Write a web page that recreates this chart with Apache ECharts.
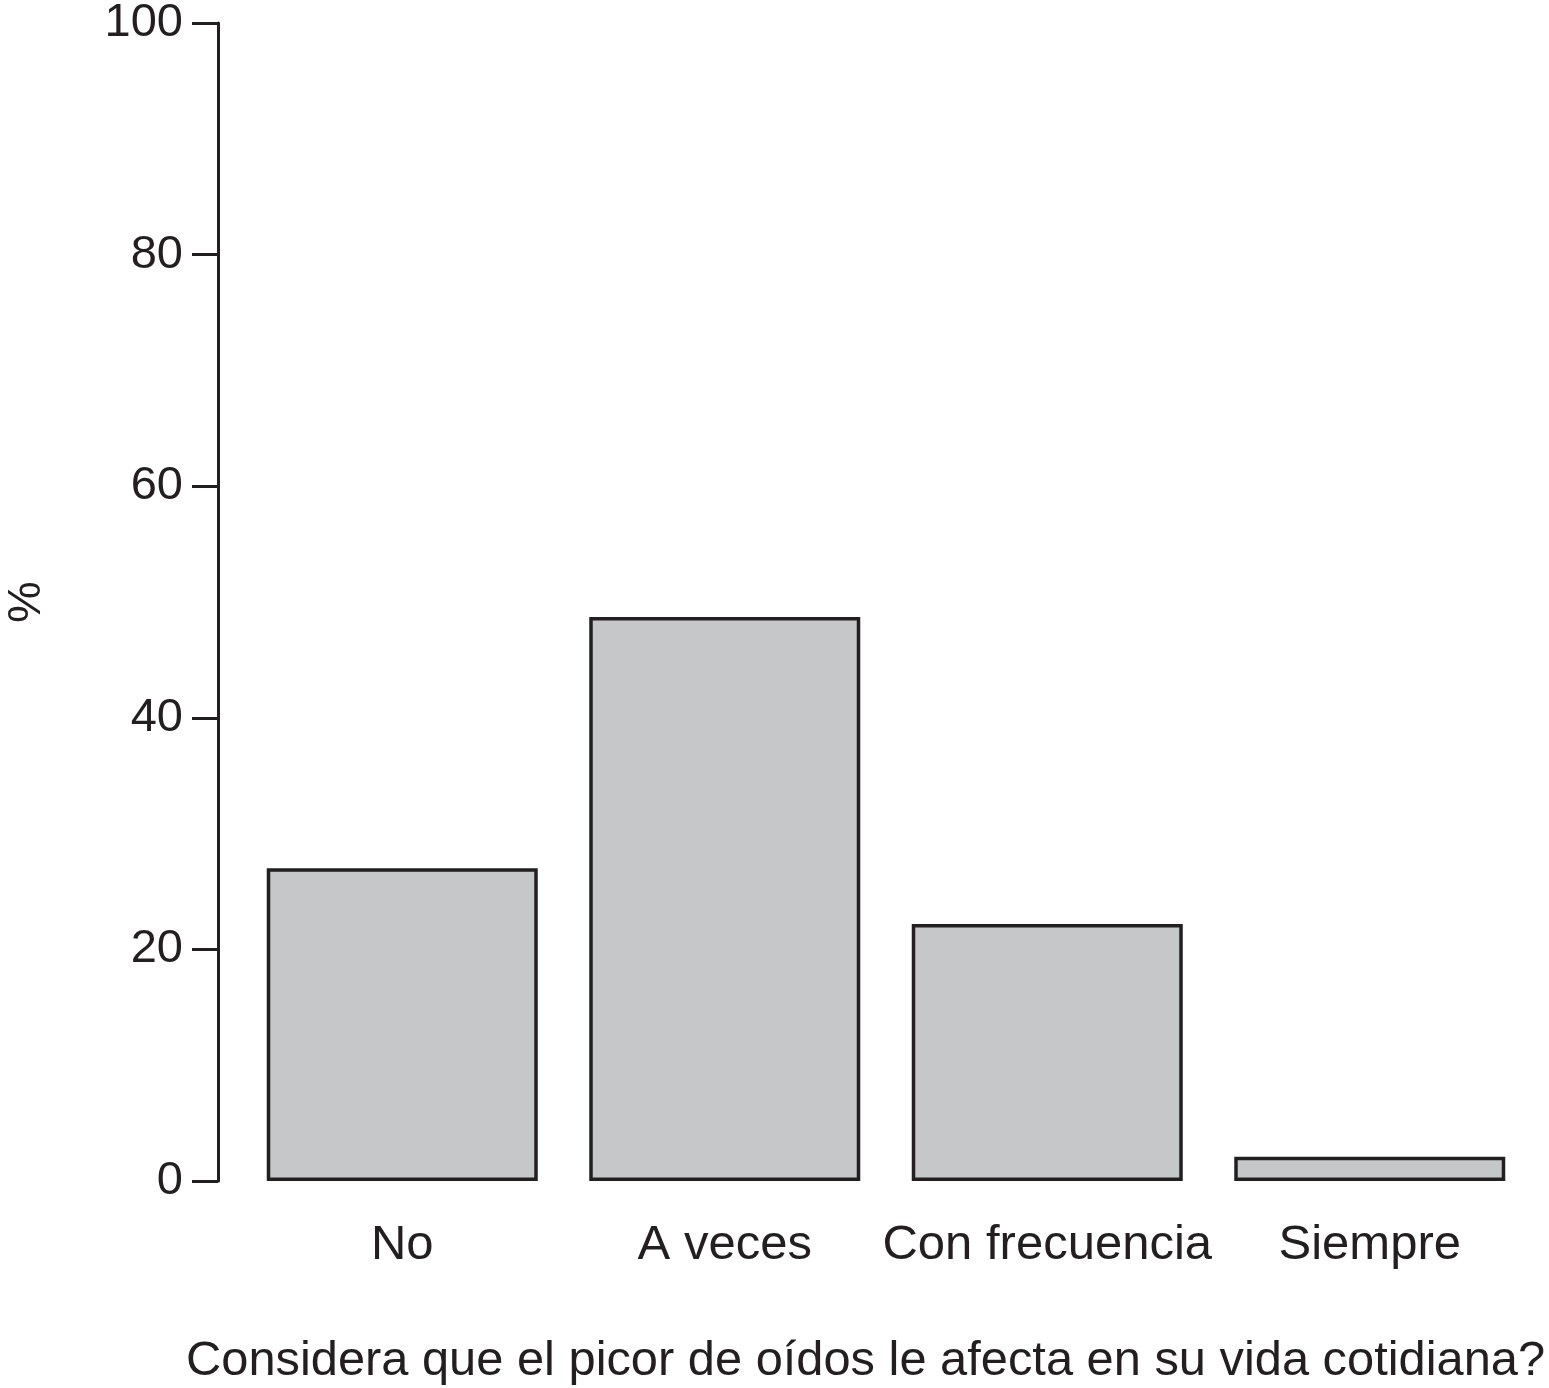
<!DOCTYPE html>
<html>
<head>
<meta charset="utf-8">
<script src="https://cdn.jsdelivr.net/npm/echarts@6/dist/echarts.min.js"></script>
<style>
  html, body { margin: 0; padding: 0; background: #fff; }
  #chart { width: 1549px; height: 1388px; }
</style>
</head>
<body>
<div id="chart"></div>
<script>
// respuestas y porcentajes
const categories = ["No", "A veces", "Con frecuencia", "Siempre"];
const percents = [27.0, 48.7, 22.2, 2.1];
const yTicks = [0, 20, 40, 60, 80, 100];

const ink = "#231f20";
const font = "Liberation Sans, Arial, Helvetica, sans-serif";

const chart = echarts.init(document.getElementById("chart"), null, { renderer: "canvas" });

const option = {
    backgroundColor: "#ffffff",
    animation: false,
    title: {
        text: "Considera que el picor de oídos le afecta en su vida cotidiana?",
        left: 186,
        top: 1337,
        padding: 0,
        textStyle: { color: ink, fontFamily: font, fontSize: 48.8, fontWeight: "normal" }
    },
    grid: { left: 241, right: 18, top: 23, bottom: 207, outerBoundsMode: "none", containLabel: false },
    xAxis: {
        type: "category",
        data: categories,
        boundaryGap: true,
        axisLine: { show: false },
        axisTick: { show: false },
        axisLabel: { color: ink, fontFamily: font, fontSize: 49, margin: 40, interval: 0 }
    },
    yAxis: {
        type: "value",
        min: 0,
        max: 100,
        interval: 20,
        offset: 23,
        name: "%",
        nameLocation: "middle",
        nameRotate: 90,
        nameGap: 167,
        nameTextStyle: { color: ink, fontFamily: font, fontSize: 47 },
        splitLine: { show: false },
        axisLine: { show: true, lineStyle: { color: ink, width: 3 } },
        axisTick: { show: true, length: 26, lineStyle: { color: ink, width: 3 } },
        axisLabel: {
            color: ink, fontFamily: font, fontSize: 47, margin: 35,
            formatter: function (v) { return yTicks.indexOf(v) >= 0 ? String(v) : ""; }
        }
    },
    series: [{
        type: "bar",
        data: percents,
        barWidth: 271,
        itemStyle: { color: "#c6c7c9", borderColor: ink, borderWidth: 3.5 }
    }]
};

chart.setOption(option);
</script>
</body>
</html>
